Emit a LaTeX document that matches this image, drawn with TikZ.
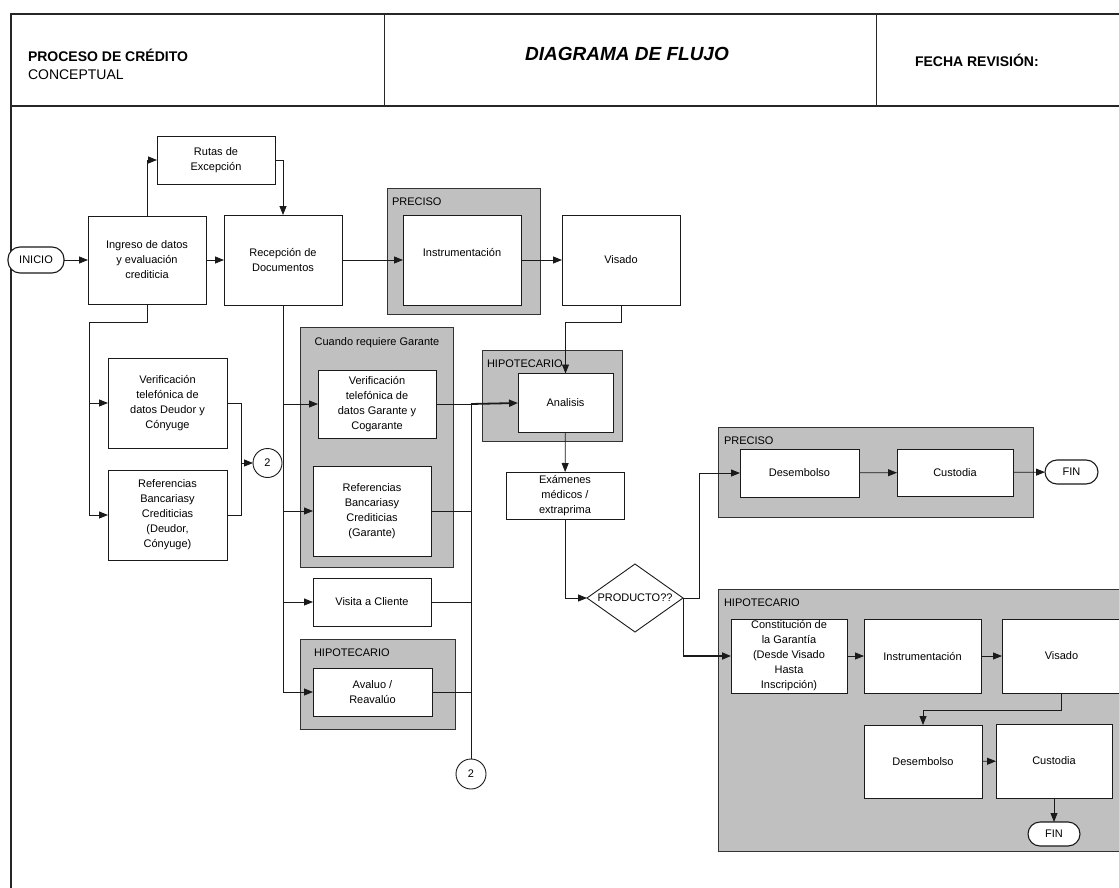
\documentclass[tikz,border=0pt]{standalone}
\usepackage{fontspec}
\setmainfont{Liberation Sans}
\usetikzlibrary{arrows.meta,shapes.geometric}

\definecolor{panel}{HTML}{C0C0C0}
\definecolor{edge}{HTML}{1A1A1A}

\begin{document}
\begin{tikzpicture}[x=1pt,y=-1pt,
  every node/.style={inner sep=0pt, outer sep=0pt},
  body/.style={font=\fontsize{11}{15}\selectfont, align=center},
  proc/.style={body, rectangle, draw=edge, line width=0.9pt, fill=white},
  panelbox/.style={rectangle, draw=black!80, line width=1pt, fill=panel},
  paneltitle/.style={font=\fontsize{11}{13}\selectfont, anchor=base west},
  term/.style={body, rectangle, rounded corners=12pt, draw=edge, line width=1.1pt, fill=white},
  joint/.style={body, circle, draw=edge, line width=0.9pt, fill=white, minimum size=29pt},
  flow/.style={draw=edge, line width=0.8pt},
  arr/.style={flow, -{Triangle[length=9pt,width=7pt]}},
  heavy/.style={line width=1.8pt},
  frame/.style={draw=black!85, line width=1.3pt}
]
\useasboundingbox (0,0) rectangle (1119,888);
\clip (0,0) rectangle (1119,888);
\fill[white] (0,0) rectangle (1119,888);

% ---------- header frame ----------
\draw[frame] (1130,14) -- (11,14) -- (11,900);
\draw[frame] (11,106) -- (1130,106);
\draw[frame, line width=1pt] (384,14) -- (384,106);
\draw[frame, line width=1pt] (876,14) -- (876,106);
\node[anchor=base west, font=\bfseries\fontsize{14}{16}\selectfont] (hproc) at (28,62) {PROCESO DE CRÉDITO};
\node[anchor=base west, font=\fontsize{14}{16}\selectfont] (hconc) at (28,80) {CONCEPTUAL};
\node[anchor=base, font=\bfseries\itshape\fontsize{19}{21}\selectfont] (hdiag) at (627,61) {DIAGRAMA DE FLUJO};
\node[anchor=base west, font=\bfseries\fontsize{14}{16}\selectfont] (hfecha) at (915,67) {FECHA REVISIÓN:};

% ---------- shaded groups ----------
\node[panelbox, minimum width=153pt, minimum height=126pt] (grpPrecA) at (463.5,251) {};
\node[paneltitle] (tPrecA) at (392,205) {PRECISO};
\node[panelbox, minimum width=153pt, minimum height=240pt] (grpGar) at (376.5,447) {};
\node[paneltitle, anchor=base] (tGar) at (377,345) {Cuando requiere Garante};
\node[panelbox, minimum width=155pt, minimum height=90pt] (grpHipA) at (377.5,684) {};
\node[paneltitle] (tHipA) at (314,656) {HIPOTECARIO};
\node[panelbox, minimum width=140pt, minimum height=91pt] (grpHipB) at (552,395.5) {};
\node[paneltitle] (tHipB) at (487,367) {HIPOTECARIO};
\node[panelbox, minimum width=315pt, minimum height=90pt] (grpPrecB) at (875.5,472) {};
\node[paneltitle] (tPrecB) at (724,444) {PRECISO};
\node[panelbox, minimum width=422pt, minimum height=262pt] (grpHipC) at (929,720) {};
\node[paneltitle] (tHipC) at (724,606) {HIPOTECARIO};

% ---------- steps ----------
\node[term, minimum width=56pt, minimum height=26pt] (inicio) at (36,260) {INICIO};
\node[proc, minimum width=118pt, minimum height=48pt] (rutas) at (216,160) {Rutas de\\Excepción};
\node[proc, minimum width=118pt, minimum height=88pt] (ingreso) at (147,260) {Ingreso de datos\\y evaluación\\crediticia};
\node[proc, minimum width=118pt, minimum height=90pt] (recepcion) at (283,260) {Recepción de\\Documentos};
\node[proc, minimum width=118pt, minimum height=90pt] (instrA) at (462,260) {\raisebox{7pt}[\height][\depth]{Instrumentación}};
\node[proc, minimum width=118pt, minimum height=90pt] (visadoA) at (621,260) {Visado};

\node[proc, minimum width=119pt, minimum height=90pt] (verD) at (167.5,403) {Verificación\\telefónica de\\datos Deudor y\\Cónyuge};
\node[proc, minimum width=119pt, minimum height=90pt] (refD) at (167.5,515) {Referencias\\Bancariasy\\Crediticias\\(Deudor,\\Cónyuge)};
\node[joint] (jointA) at (267.5,463) {2};

\node[proc, minimum width=118pt, minimum height=68pt] (verG) at (377,404) {Verificación\\telefónica de\\datos Garante y\\Cogarante};
\node[proc, minimum width=118pt, minimum height=90pt] (refG) at (372,511) {Referencias\\Bancariasy\\Crediticias\\(Garante)};
\node[proc, minimum width=118pt, minimum height=48pt] (visita) at (372,602) {Visita a Cliente};
\node[proc, minimum width=119pt, minimum height=48pt] (avaluo) at (372.5,692) {Avaluo /\\Reavalúo};
\node[joint, minimum size=30pt] (jointB) at (471,774) {2};

\node[proc, minimum width=95pt, minimum height=59pt] (analisis) at (565.5,403) {Analisis};
\node[proc, minimum width=118pt, minimum height=47pt] (examenes) at (565,495.5) {Exámenes\\médicos /\\extraprima};
\node[body, diamond, draw=edge, line width=0.9pt, fill=white, minimum width=96pt, minimum height=68pt] (producto) at (635,598) {\makebox[0pt]{PRODUCTO??}};

\node[proc, minimum width=119pt, minimum height=48pt] (desP) at (799.5,473) {Desembolso};
\node[proc, minimum width=116pt, minimum height=47pt] (custP) at (955,472.5) {Custodia};
\node[term, minimum width=53pt, minimum height=24pt] (finP) at (1071.5,472) {FIN};

\node[proc, minimum width=116pt, minimum height=74pt] (const) at (789,656) {Constitución de\\la Garantía\\(Desde Visado\\Hasta\\Inscripción)};
\node[proc, minimum width=117pt, minimum height=74pt] (instrH) at (922.5,656) {Instrumentación};
\node[proc, minimum width=119pt, minimum height=74pt] (visH) at (1061.5,656) {Visado};
\node[proc, minimum width=118pt, minimum height=73pt] (desH) at (923,761.5) {Desembolso};
\node[proc, minimum width=116pt, minimum height=74pt] (custH) at (1054,761) {Custodia};
\node[term, minimum width=52pt, minimum height=24pt] (finH) at (1054,834) {FIN};

% ---------- junction points ----------
\coordinate (splitL) at (89,322);
\coordinate (mergeD) at (241,463);
\coordinate (mergeG) at (471,404);

% ---------- connectors ----------
\draw[arr] (inicio) -- (ingreso);
\draw[arr] (ingreso) -- (recepcion);
\draw[arr] (recepcion) -- (instrA);
\draw[arr] (instrA) -- (visadoA);
\draw[arr] (ingreso.north) |- (rutas.west);
\draw[arr] (rutas.east) -| (recepcion.north);

\draw[flow] (ingreso.south) |- (splitL);
\draw[arr] (splitL) |- (verD.west);
\draw[arr] (splitL) |- (refD.west);
\draw[flow] (verD.east) -| (mergeD);
\draw[flow] (refD.east) -| (mergeD);
\draw[arr] (mergeD) -- (jointA.west);

\draw[arr] (recepcion.south) |- (verG.west);
\draw[arr] (recepcion.south) |- (refG.west);
\draw[arr] (recepcion.south) |- (visita.west);
\draw[arr] (recepcion.south) |- (avaluo.west);

\draw[flow] (verG.east) -- (mergeG);
\draw[flow] (refG.east) -| (mergeG);
\draw[flow] (visita.east) -| (mergeG);
\draw[flow] (avaluo.east) -| (mergeG);
\draw[flow] (mergeG) -- (jointB.north);
\draw[arr, heavy] (mergeG) -- (analisis.west);

\draw[arr] (visadoA.south) -- ++(0,17) -| (analisis.north);
\draw[arr] (analisis) -- (examenes);
\draw[arr] (examenes.south) |- (producto.west);

\draw[arr] (producto.east) -- ++(16,0) |- (desP.west);
\draw[arr] (desP) -- (custP);
\draw[arr] (custP) -- (finP);

\coordinate (turnH) at (producto.east |- const.west);
\draw[flow] (producto.east) -- (turnH);
\draw[arr, heavy] (turnH) -- (const.west);
\draw[arr] (const) -- (instrH);
\draw[arr] (instrH) -- (visH);
\draw[arr] (visH.south) -- ++(0,17) -| (desH.north);
\draw[arr] (desH) -- (custH);
\draw[arr] (custH) -- (finH);
\end{tikzpicture}
\end{document}
